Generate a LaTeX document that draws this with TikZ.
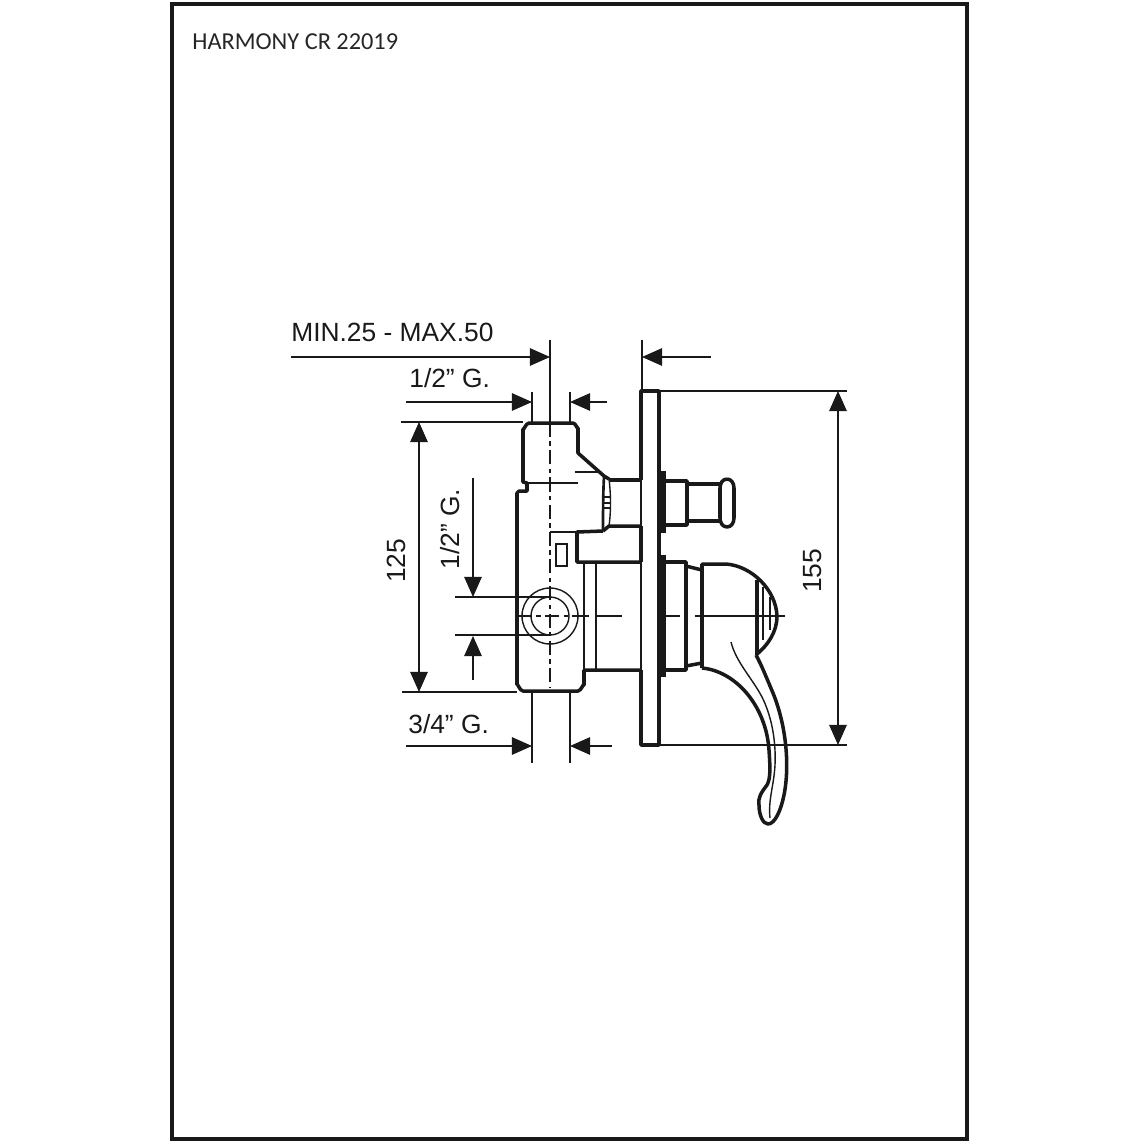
\documentclass[tikz,border=0pt]{standalone}
\usepackage{fontspec}
\setmainfont{Liberation Sans}
\newfontfamily\titlefont{Carlito}
\usetikzlibrary{arrows.meta}
\tikzset{%
heavy/.style={draw=black!90, line width=2pt, line join=round},
slim/.style={draw=black!90, line width=0.8pt},
centreline/.style={slim, dash pattern=on 8pt off 2.5pt on 2.5pt off 2.5pt},
dimtip/.style={-{Triangle[length=11.5pt,width=10pt]}},
dimboth/.style={{Triangle[length=11.5pt,width=10pt]}-{Triangle[length=11.5pt,width=10pt]}},
dimtext/.style={font=\fontsize{15}{17}\selectfont, text=black!90, inner sep=0pt}
}
\begin{document}
\begin{tikzpicture}[x=0.02cm, y=-0.02cm]
	\useasboundingbox (0,0) rectangle (1144,1144);
	\draw[line width=2.5pt, draw=black!90] (172,4) rectangle (967,1139);
	\node[inner sep=0pt, anchor=base west, font=\titlefont\fontsize{13.85}{15}\selectfont, text=black!85] (title) at (192,49) {HARMONY CR 22019};

	% valve body
	\draw[heavy] (517,685) -- (517,496) -- ++(0,-3) -- (519,491) -- (527,491) -- (527,483) -- (523,482) -- (523,429) to[out=-90,in=180] (529,423) -- (573,423) to[out=0,in=-90] (578,428) -- (578,453) -- (604,476) -- (609,479);
	\draw[heavy] (517,685) to[out=90,in=180] (523,691) -- (578,691) to[out=0,in=90] (584,685) -- (584,670) -- (641,670);
	\draw[heavy] (603,531) -- (577,532) -- (577,562) -- (641,562);
	\draw[heavy, line width=1.5pt] (604,476) .. controls (603,495) and (603,515) .. (603,531);
	\draw[slim] (609,479) .. controls (611,495) and (611,512) .. (609,526);
	\draw[heavy] (609,480) -- (641,480);
	\draw[heavy] (603,531) -- (609,526) -- (641,526);
	\draw[slim] (527,483) -- (578,483);
	\draw[slim] (575,472) -- (598,472);
	\draw[slim] (604,497) -- (610,497);
	\draw[slim] (604,503) -- (610,503);
	\draw[slim] (604,508) -- (610,508);
	\draw[slim] (550,532) -- (577,532);
	\draw[slim] (556,544) rectangle (567,566);
	\draw[slim] (584,562) -- (584,670);
	\draw[slim] (596,562) -- (596,670);
	\draw[slim] (550,616) circle (28);
	\draw[slim] (550,616) circle (19);

	% cover plate
	\draw[heavy] (641,480) -- (641,391) -- (659,391) -- (659,745) -- (641,745) -- (641,670);
	\draw[heavy] (641,526) -- (641,562);
	\draw[slim] (641,480) -- (641,526);
	\draw[slim] (641,562) -- (641,670);
	\fill[black!90] (659,471) rectangle (666,533);
	\fill[black!90] (659,555) rectangle (666,677);

	% diverter knob
	\draw[heavy] (666,481) -- (687,481) -- (687,525) -- (666,525);
	\draw[heavy] (687,484) -- (720,484);
	\draw[heavy] (687,521) -- (720,521);
	\draw[heavy] (727,479) to[out=180,in=90] (720,488) -- (720,518) to[out=-90,in=180] (727,527) to[out=0,in=-90] (734,518) -- (734,488) to[out=90,in=0] (727,479);

	% lever
	\draw[heavy] (666,562) -- (686,562) -- (686,670) -- (666,670);
	\draw[heavy] (686,566) -- (702,570);
	\draw[heavy] (686,666) -- (702,663);
	\draw[heavy] (702,668) -- (702,564) -- (726,564) .. controls (752,566) and (776,590) .. (777,616) .. controls (777,632) and (768,645) .. (756,655);
	\draw[heavy] (757,580) -- (757,655);
	\draw[slim] (763,587) -- (763,640);
	\draw[slim] (770,597) -- (770,630);
	\draw[heavy] (702,668) .. controls (735,671) and (766,705) .. (769,750) .. controls (770,765) and (771,778) .. (767,785) .. controls (761,793) and (758,797) .. (759,805) .. controls (759,815) and (763,824) .. (768,824) .. controls (775,824) and (781,810) .. (784,795) .. controls (790,765) and (786,725) .. (773,693) .. controls (767,679) and (762,666) .. (756,655);
	\draw[slim] (731,642) .. controls (736,662) and (752,678) .. (762,697) .. controls (773,719) and (776,745) .. (775,765) .. controls (774,785) and (768,800) .. (770,818);

	% centre lines
	\draw[slim] (550,340) -- (550,423);
	\draw[centreline] (550,423) -- (550,687);
	\draw[centreline] (518,616) -- (585,616);
	\draw[slim] (585,616) -- (589,616);
	\draw[slim] (595,616) -- (622,616);
	\draw[slim] (666,616) -- (680,616);
	\draw[slim] (695,616) -- (785,616);

	% extension lines
	\draw[slim] (642,340) -- (642,391);
	\draw[slim] (532,392) -- (532,423);
	\draw[slim] (570,392) -- (570,423);
	\draw[slim] (532,691) -- (532,763);
	\draw[slim] (570,691) -- (570,763);
	\draw[slim] (401,422) -- (523,422);
	\draw[slim] (402,692) -- (517,692);
	\draw[slim] (659,391) -- (847,391);
	\draw[slim] (659,745) -- (847,745);
	\draw[slim] (455,597) -- (550,597);
	\draw[slim] (455,635) -- (550,635);

	% dimensions
	\draw[slim, dimtip] (291,357) -- (550,357);
	\draw[slim, dimtip] (711,357) -- (642,357);
	\draw[slim, dimtip] (406,402) -- (532,402);
	\draw[slim, dimtip] (607,402) -- (570,402);
	\draw[slim, dimtip] (406,746) -- (532,746);
	\draw[slim, dimtip] (612,746) -- (570,746);
	\draw[slim, dimboth] (419,422) -- (419,692);
	\draw[slim, dimboth] (838,391) -- (838,745);
	\draw[slim, dimtip] (473,478) -- (473,597);
	\draw[slim, dimtip] (473,680) -- (473,636);

	\node[dimtext, anchor=base west] (minmax) at (291,341) {MIN.25 - MAX.50};
	\node[dimtext, anchor=base west] (halfg) at (409,387) {1/2” G.};
	\node[dimtext, anchor=base west] (threeg) at (408,733) {3/4” G.};
	\node[dimtext, rotate=90] (bodyh) at (396,561) {125};
	\node[dimtext, rotate=90] (halfv) at (450,529) {1/2” G.};
	\node[dimtext, rotate=90] (plateh) at (813,571) {155};
\end{tikzpicture}
\end{document}
